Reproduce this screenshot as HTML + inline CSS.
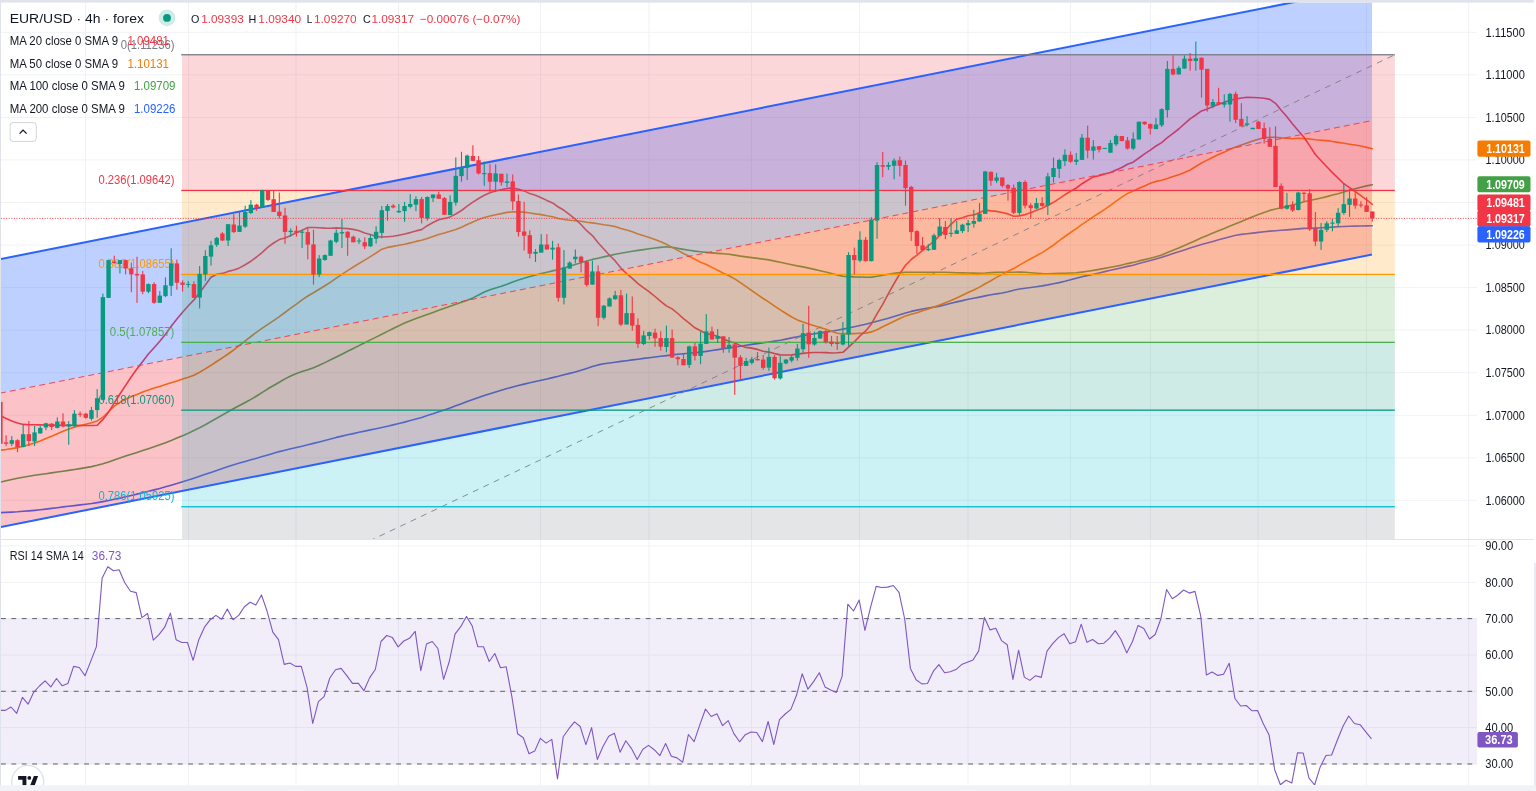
<!DOCTYPE html>
<html><head><meta charset="utf-8"><title>EUR/USD 4h</title>
<style>html,body{margin:0;padding:0;background:#fff;overflow:hidden}body{width:1536px;height:791px;position:relative;font-family:"Liberation Sans",sans-serif}</style></head>
<body>
<svg width="1536" height="791" viewBox="0 0 1536 791" style="position:absolute;left:0;top:0;will-change:transform;font-family:'Liberation Sans',sans-serif">
<defs>
<clipPath id="p1"><rect x="1" y="2.6" width="1476" height="536.4"/></clipPath>
<clipPath id="p2"><rect x="1" y="540.0" width="1476" height="245.29999999999995"/></clipPath>
</defs>
<rect width="1536" height="791" fill="#fff"/>
<g fill="#f1f2f5"><rect x="85.0" y="2.6" width="1" height="782.7"/><rect x="188.0" y="2.6" width="1" height="782.7"/><rect x="295.5" y="2.6" width="1" height="782.7"/><rect x="398.0" y="2.6" width="1" height="782.7"/><rect x="540.0" y="2.6" width="1" height="782.7"/><rect x="648.5" y="2.6" width="1" height="782.7"/><rect x="751.0" y="2.6" width="1" height="782.7"/><rect x="859.0" y="2.6" width="1" height="782.7"/><rect x="967.5" y="2.6" width="1" height="782.7"/><rect x="1070.0" y="2.6" width="1" height="782.7"/><rect x="1150.0" y="2.6" width="1" height="782.7"/><rect x="1257.5" y="2.6" width="1" height="782.7"/><rect x="1366.0" y="2.6" width="1" height="782.7"/><rect x="1468.2" y="2.6" width="1" height="782.7"/><rect x="1" y="31.8" width="1476" height="1"/><rect x="1" y="74.3" width="1476" height="1"/><rect x="1" y="116.9" width="1476" height="1"/><rect x="1" y="159.4" width="1476" height="1"/><rect x="1" y="202.0" width="1476" height="1"/><rect x="1" y="244.6" width="1476" height="1"/><rect x="1" y="287.1" width="1476" height="1"/><rect x="1" y="329.6" width="1476" height="1"/><rect x="1" y="372.2" width="1476" height="1"/><rect x="1" y="414.8" width="1476" height="1"/><rect x="1" y="457.3" width="1476" height="1"/><rect x="1" y="499.8" width="1476" height="1"/><rect x="1" y="545.4" width="1476" height="1"/><rect x="1" y="581.8" width="1476" height="1"/><rect x="1" y="618.1" width="1476" height="1"/><rect x="1" y="654.5" width="1476" height="1"/><rect x="1" y="690.8" width="1476" height="1"/><rect x="1" y="727.1" width="1476" height="1"/><rect x="1" y="763.5" width="1476" height="1"/></g>
<g clip-path="url(#p1)">
<path d="M0.4,512.7 L6.1,512.4 L11.8,512.1 L17.5,511.8 L23.2,511.3 L28.9,510.9 L34.6,510.4 L40.2,509.8 L45.9,509.1 L51.6,508.4 L57.3,507.7 L63.0,506.9 L68.7,506.2 L74.4,505.6 L80.1,504.9 L85.8,504.2 L91.5,503.5 L97.2,502.6 L102.9,501.6 L108.6,500.5 L114.2,499.3 L119.9,498.1 L125.6,496.8 L131.3,495.5 L137.0,494.1 L142.7,492.8 L148.4,491.3 L154.1,489.9 L159.8,488.4 L165.5,486.8 L171.2,485.2 L176.9,483.6 L182.6,481.8 L188.3,480.0 L193.9,478.2 L199.6,476.3 L205.3,474.3 L211.0,472.4 L216.7,470.4 L222.4,468.4 L228.1,466.5 L233.8,464.7 L239.5,463.0 L245.2,461.4 L250.9,459.8 L256.6,458.3 L262.3,456.6 L267.9,454.9 L273.6,453.2 L279.3,451.6 L285.0,450.2 L290.7,448.8 L296.4,447.5 L302.1,446.2 L307.8,444.8 L313.5,443.4 L319.2,441.9 L324.9,440.4 L330.6,438.9 L336.3,437.4 L341.9,436.1 L347.6,434.8 L353.3,433.6 L359.0,432.3 L364.7,431.1 L370.4,429.9 L376.1,428.7 L381.8,427.5 L387.5,426.2 L393.2,424.9 L398.9,423.5 L404.6,422.1 L410.3,420.6 L416.0,419.0 L421.6,417.4 L427.3,415.6 L433.0,413.8 L438.7,411.8 L444.4,409.9 L450.1,407.9 L455.8,405.8 L461.5,403.7 L467.2,401.6 L472.9,399.6 L478.6,397.6 L484.3,395.6 L490.0,393.7 L495.6,391.9 L501.3,390.2 L507.0,388.6 L512.7,387.0 L518.4,385.5 L524.1,384.1 L529.8,382.7 L535.5,381.5 L541.2,380.2 L546.9,379.0 L552.6,377.6 L558.3,376.3 L564.0,374.8 L569.6,373.4 L575.3,371.9 L581.0,370.3 L586.7,368.4 L592.4,366.4 L598.1,364.9 L603.8,363.8 L609.5,363.0 L615.2,362.2 L620.9,361.4 L626.6,360.7 L632.3,359.9 L638.0,359.2 L643.7,358.4 L649.3,357.7 L655.0,357.0 L660.7,356.3 L666.4,355.6 L672.1,354.9 L677.8,354.3 L683.5,353.7 L689.2,353.2 L694.9,352.7 L700.6,352.1 L706.3,351.4 L712.0,350.5 L717.7,349.6 L723.3,348.7 L729.0,347.9 L734.7,347.0 L740.4,346.2 L746.1,345.3 L751.8,344.4 L757.5,343.6 L763.2,342.8 L768.9,342.0 L774.6,341.1 L780.3,340.2 L786.0,339.1 L791.7,337.9 L797.3,336.7 L803.0,335.6 L808.7,334.6 L814.4,333.7 L820.1,332.9 L825.8,332.1 L831.5,331.2 L837.2,330.2 L842.9,329.1 L848.6,328.0 L854.3,326.8 L860.0,325.5 L865.7,324.2 L871.4,322.8 L877.0,321.3 L882.7,319.8 L888.4,318.2 L894.1,316.5 L899.8,314.8 L905.5,313.0 L911.2,311.4 L916.9,310.1 L922.6,309.0 L928.3,308.0 L934.0,307.1 L939.7,306.1 L945.4,304.8 L951.0,303.3 L956.7,301.9 L962.4,300.6 L968.1,299.3 L973.8,298.2 L979.5,297.1 L985.2,295.9 L990.9,294.8 L996.6,293.9 L1002.3,293.0 L1008.0,291.7 L1013.7,290.2 L1019.4,289.0 L1025.1,288.2 L1030.7,287.5 L1036.4,286.7 L1042.1,285.9 L1047.8,284.9 L1053.5,283.7 L1059.2,282.6 L1064.9,281.3 L1070.6,279.8 L1076.3,278.2 L1082.0,276.7 L1087.7,275.4 L1093.4,274.3 L1099.1,273.0 L1104.7,271.6 L1110.4,270.3 L1116.1,269.0 L1121.8,267.7 L1127.5,266.4 L1133.2,265.2 L1138.9,263.6 L1144.6,262.0 L1150.3,260.5 L1156.0,258.9 L1161.7,257.2 L1167.4,255.4 L1173.1,253.6 L1178.7,251.8 L1184.4,250.0 L1190.1,248.1 L1195.8,246.3 L1201.5,244.5 L1207.2,242.9 L1212.9,241.4 L1218.6,239.8 L1224.3,238.3 L1230.0,236.7 L1235.7,235.3 L1241.4,234.4 L1247.1,233.7 L1252.8,233.1 L1258.4,232.4 L1264.1,231.8 L1269.8,231.1 L1275.5,230.7 L1281.2,230.3 L1286.9,229.9 L1292.6,229.4 L1298.3,228.9 L1304.0,228.4 L1309.7,228.3 L1315.4,228.1 L1321.1,227.8 L1326.8,227.5 L1332.4,227.1 L1338.1,226.8 L1343.8,226.5 L1349.5,226.3 L1355.2,226.1 L1360.9,226.0 L1366.6,225.9 L1372.3,225.8" fill="none" stroke="#2962ff" stroke-width="1.6" stroke-linejoin="round" stroke-linecap="round"/>
<path d="M0.4,482.1 L6.1,480.8 L11.8,479.5 L17.5,478.3 L23.2,477.2 L28.9,476.2 L34.6,475.3 L40.2,474.5 L45.9,473.7 L51.6,472.9 L57.3,472.0 L63.0,471.2 L68.7,470.4 L74.4,469.5 L80.1,468.6 L85.8,467.6 L91.5,466.6 L97.2,465.3 L102.9,463.8 L108.6,462.0 L114.2,460.1 L119.9,458.1 L125.6,456.1 L131.3,454.2 L137.0,452.4 L142.7,450.5 L148.4,448.7 L154.1,446.8 L159.8,444.8 L165.5,442.7 L171.2,440.5 L176.9,438.1 L182.6,435.7 L188.3,433.2 L193.9,430.5 L199.6,427.7 L205.3,424.7 L211.0,421.5 L216.7,418.2 L222.4,415.0 L228.1,411.7 L233.8,408.5 L239.5,405.5 L245.2,402.5 L250.9,399.4 L256.6,396.0 L262.3,392.4 L267.9,388.8 L273.6,385.5 L279.3,382.2 L285.0,378.9 L290.7,376.0 L296.4,373.5 L302.1,371.6 L307.8,369.8 L313.5,367.7 L319.2,365.3 L324.9,362.6 L330.6,359.8 L336.3,357.0 L341.9,354.2 L347.6,351.3 L353.3,348.5 L359.0,345.6 L364.7,342.8 L370.4,339.9 L376.1,337.1 L381.8,334.3 L387.5,331.4 L393.2,328.5 L398.9,325.7 L404.6,323.1 L410.3,320.7 L416.0,318.5 L421.6,316.4 L427.3,314.4 L433.0,312.4 L438.7,310.3 L444.4,308.3 L450.1,306.3 L455.8,304.3 L461.5,302.3 L467.2,300.3 L472.9,297.9 L478.6,295.0 L484.3,292.0 L490.0,289.8 L495.6,288.0 L501.3,286.3 L507.0,284.3 L512.7,282.1 L518.4,280.0 L524.1,278.2 L529.8,276.6 L535.5,275.0 L541.2,273.6 L546.9,272.2 L552.6,270.9 L558.3,269.6 L564.0,268.1 L569.6,266.3 L575.3,264.4 L581.0,262.7 L586.7,261.0 L592.4,259.4 L598.1,258.2 L603.8,256.9 L609.5,255.6 L615.2,254.3 L620.9,253.3 L626.6,252.2 L632.3,251.2 L638.0,250.4 L643.7,249.6 L649.3,248.8 L655.0,248.0 L660.7,247.4 L666.4,246.8 L672.1,247.4 L677.8,248.4 L683.5,249.4 L689.2,250.3 L694.9,251.1 L700.6,251.8 L706.3,252.4 L712.0,252.9 L717.7,253.4 L723.3,253.8 L729.0,254.3 L734.7,255.1 L740.4,256.1 L746.1,256.9 L751.8,257.6 L757.5,258.4 L763.2,259.1 L768.9,259.9 L774.6,261.1 L780.3,262.3 L786.0,263.5 L791.7,264.7 L797.3,265.9 L803.0,266.9 L808.7,268.1 L814.4,269.4 L820.1,270.7 L825.8,272.0 L831.5,273.5 L837.2,275.0 L842.9,276.2 L848.6,276.6 L854.3,276.9 L860.0,277.0 L865.7,277.2 L871.4,277.1 L877.0,276.3 L882.7,275.3 L888.4,274.3 L894.1,273.4 L899.8,272.6 L905.5,272.2 L911.2,272.2 L916.9,272.3 L922.6,272.3 L928.3,272.4 L934.0,272.3 L939.7,272.2 L945.4,272.2 L951.0,272.5 L956.7,272.7 L962.4,272.9 L968.1,273.0 L973.8,273.1 L979.5,273.2 L985.2,273.0 L990.9,272.6 L996.6,272.4 L1002.3,272.3 L1008.0,272.2 L1013.7,272.2 L1019.4,272.0 L1025.1,272.3 L1030.7,272.7 L1036.4,273.2 L1042.1,273.6 L1047.8,273.7 L1053.5,273.6 L1059.2,273.4 L1064.9,273.2 L1070.6,273.0 L1076.3,272.8 L1082.0,272.1 L1087.7,271.3 L1093.4,270.4 L1099.1,269.4 L1104.7,268.4 L1110.4,267.3 L1116.1,266.2 L1121.8,265.1 L1127.5,263.6 L1133.2,262.4 L1138.9,260.9 L1144.6,259.6 L1150.3,258.3 L1156.0,256.7 L1161.7,255.1 L1167.4,252.6 L1173.1,250.3 L1178.7,248.0 L1184.4,245.6 L1190.1,243.0 L1195.8,240.4 L1201.5,237.8 L1207.2,235.5 L1212.9,233.1 L1218.6,230.8 L1224.3,228.5 L1230.0,226.0 L1235.7,223.8 L1241.4,221.5 L1247.1,219.1 L1252.8,216.7 L1258.4,214.6 L1264.1,212.4 L1269.8,210.4 L1275.5,209.0 L1281.2,207.7 L1286.9,206.4 L1292.6,205.0 L1298.3,203.5 L1304.0,201.8 L1309.7,200.5 L1315.4,199.3 L1321.1,198.0 L1326.8,196.6 L1332.4,195.1 L1338.1,193.7 L1343.8,192.0 L1349.5,190.3 L1355.2,188.8 L1360.9,187.3 L1366.6,185.9 L1372.3,184.7" fill="none" stroke="#43a047" stroke-width="1.6" stroke-linejoin="round" stroke-linecap="round"/>
<path d="M0.4,450.2 L6.1,449.5 L11.8,448.6 L17.5,447.6 L23.2,446.3 L28.9,444.7 L34.6,442.9 L40.2,440.9 L45.9,438.6 L51.6,436.3 L57.3,433.8 L63.0,431.3 L68.7,429.1 L74.4,427.3 L80.1,425.6 L85.8,424.2 L91.5,422.8 L97.2,420.9 L102.9,417.2 L108.6,411.5 L114.2,406.2 L119.9,402.4 L125.6,399.2 L131.3,396.6 L137.0,394.4 L142.7,392.1 L148.4,389.9 L154.1,388.1 L159.8,386.4 L165.5,384.6 L171.2,382.8 L176.9,380.9 L182.6,379.0 L188.3,377.3 L193.9,375.2 L199.6,372.2 L205.3,368.9 L211.0,365.3 L216.7,361.5 L222.4,357.8 L228.1,354.0 L233.8,349.9 L239.5,345.4 L245.2,340.9 L250.9,336.5 L256.6,332.1 L262.3,328.2 L267.9,324.4 L273.6,320.6 L279.3,316.7 L285.0,312.5 L290.7,308.2 L296.4,304.1 L302.1,299.8 L307.8,296.0 L313.5,292.7 L319.2,289.2 L324.9,285.7 L330.6,282.1 L336.3,278.2 L341.9,274.4 L347.6,270.6 L353.3,267.0 L359.0,263.5 L364.7,260.1 L370.4,256.6 L376.1,253.0 L381.8,249.2 L387.5,247.4 L393.2,246.4 L398.9,245.3 L404.6,244.2 L410.3,242.9 L416.0,241.4 L421.6,240.3 L427.3,238.4 L433.0,236.6 L438.7,234.5 L444.4,232.9 L450.1,231.2 L455.8,229.5 L461.5,227.2 L467.2,224.6 L472.9,222.1 L478.6,219.6 L484.3,217.6 L490.0,216.1 L495.6,214.7 L501.3,213.6 L507.0,212.4 L512.7,211.9 L518.4,211.9 L524.1,212.1 L529.8,213.0 L535.5,213.9 L541.2,214.6 L546.9,215.8 L552.6,216.8 L558.3,218.5 L564.0,219.5 L569.6,220.2 L575.3,220.7 L581.0,221.3 L586.7,222.3 L592.4,222.9 L598.1,223.7 L603.8,224.7 L609.5,225.5 L615.2,226.6 L620.9,228.5 L626.6,230.1 L632.3,231.8 L638.0,233.9 L643.7,235.8 L649.3,237.5 L655.0,239.5 L660.7,241.8 L666.4,244.3 L672.1,247.4 L677.8,250.4 L683.5,253.5 L689.2,256.3 L694.9,259.3 L700.6,262.2 L706.3,264.5 L712.0,267.4 L717.7,270.2 L723.3,273.2 L729.0,275.8 L734.7,278.9 L740.4,282.7 L746.1,286.6 L751.8,290.6 L757.5,294.6 L763.2,298.5 L768.9,302.2 L774.6,306.1 L780.3,309.9 L786.0,313.5 L791.7,317.0 L797.3,319.9 L803.0,321.9 L808.7,324.1 L814.4,325.8 L820.1,327.4 L825.8,329.3 L831.5,331.2 L837.2,333.2 L842.9,333.9 L848.6,333.6 L854.3,333.6 L860.0,333.3 L865.7,333.2 L871.4,331.9 L877.0,329.8 L882.7,326.8 L888.4,324.0 L894.1,321.2 L899.8,318.6 L905.5,315.9 L911.2,314.3 L916.9,312.7 L922.6,310.8 L928.3,309.1 L934.0,307.1 L939.7,304.9 L945.4,302.7 L951.0,300.6 L956.7,298.0 L962.4,295.3 L968.1,292.5 L973.8,290.0 L979.5,287.1 L985.2,283.7 L990.9,280.7 L996.6,277.4 L1002.3,274.4 L1008.0,271.2 L1013.7,268.6 L1019.4,265.1 L1025.1,261.9 L1030.7,258.8 L1036.4,255.7 L1042.1,252.6 L1047.8,248.8 L1053.5,245.0 L1059.2,240.6 L1064.9,236.5 L1070.6,232.5 L1076.3,228.6 L1082.0,224.4 L1087.7,220.7 L1093.4,216.7 L1099.1,213.0 L1104.7,209.3 L1110.4,205.3 L1116.1,201.2 L1121.8,197.1 L1127.5,193.4 L1133.2,191.1 L1138.9,188.3 L1144.6,186.0 L1150.3,183.3 L1156.0,181.4 L1161.7,180.3 L1167.4,178.4 L1173.1,176.6 L1178.7,174.7 L1184.4,172.6 L1190.1,170.0 L1195.8,166.5 L1201.5,163.0 L1207.2,160.1 L1212.9,157.2 L1218.6,154.6 L1224.3,152.1 L1230.0,149.3 L1235.7,147.0 L1241.4,144.9 L1247.1,142.9 L1252.8,141.0 L1258.4,139.2 L1264.1,137.7 L1269.8,137.2 L1275.5,137.3 L1281.2,137.9 L1286.9,138.3 L1292.6,138.7 L1298.3,138.3 L1304.0,138.6 L1309.7,139.0 L1315.4,139.7 L1321.1,140.2 L1326.8,140.6 L1332.4,141.5 L1338.1,142.4 L1343.8,143.3 L1349.5,144.2 L1355.2,145.0 L1360.9,146.0 L1366.6,147.4 L1372.3,148.8" fill="none" stroke="#f57c00" stroke-width="1.6" stroke-linejoin="round" stroke-linecap="round"/>
<path d="M0.4,415.5 L6.1,418.5 L11.8,421.0 L17.5,422.9 L23.2,424.4 L28.9,424.7 L34.6,424.8 L40.2,424.9 L45.9,425.0 L51.6,425.1 L57.3,425.2 L63.0,425.3 L68.7,425.4 L74.4,425.4 L80.1,425.5 L85.8,425.5 L91.5,425.5 L97.2,425.2 L102.9,419.4 L108.6,412.2 L114.2,403.2 L119.9,394.0 L125.6,385.4 L131.3,376.8 L137.0,368.8 L142.7,361.4 L148.4,354.0 L154.1,347.7 L159.8,341.3 L165.5,334.2 L171.2,326.3 L176.9,319.1 L182.6,312.2 L188.3,305.7 L193.9,299.9 L199.6,292.7 L205.3,285.0 L211.0,277.3 L216.7,274.3 L222.4,273.4 L228.1,271.4 L233.8,270.0 L239.5,267.9 L245.2,264.8 L250.9,261.2 L256.6,257.0 L262.3,252.4 L267.9,247.2 L273.6,243.0 L279.3,239.6 L285.0,238.0 L290.7,235.4 L296.4,232.8 L302.1,230.2 L307.8,227.5 L313.5,227.5 L319.2,227.7 L324.9,228.1 L330.6,228.3 L336.3,227.9 L341.9,228.3 L347.6,228.6 L353.3,229.4 L359.0,230.8 L364.7,232.9 L370.4,234.4 L376.1,236.5 L381.8,237.0 L387.5,236.7 L393.2,236.3 L398.9,235.2 L404.6,234.0 L410.3,232.6 L416.0,230.9 L421.6,229.6 L427.3,225.7 L433.0,222.5 L438.7,219.7 L444.4,218.4 L450.1,216.9 L455.8,214.0 L461.5,210.5 L467.2,206.2 L472.9,202.2 L478.6,198.5 L484.3,195.3 L490.0,192.8 L495.6,191.0 L501.3,189.8 L507.0,188.5 L512.7,188.0 L518.4,189.3 L524.1,190.9 L529.8,193.6 L535.5,195.3 L541.2,197.7 L546.9,200.4 L552.6,202.9 L558.3,207.0 L564.0,210.3 L569.6,214.7 L575.3,219.1 L581.0,224.5 L586.7,230.7 L592.4,235.6 L598.1,242.8 L603.8,249.0 L609.5,255.3 L615.2,260.9 L620.9,268.1 L626.6,273.6 L632.3,278.3 L638.0,283.7 L643.7,287.8 L649.3,291.8 L655.0,296.5 L660.7,301.4 L666.4,305.9 L672.1,308.9 L677.8,313.5 L683.5,318.6 L689.2,323.1 L694.9,327.8 L700.6,330.7 L706.3,333.7 L712.0,334.8 L717.7,336.3 L723.3,338.8 L729.0,341.3 L734.7,342.9 L740.4,345.6 L746.1,347.4 L751.8,348.1 L757.5,349.4 L763.2,351.2 L768.9,352.1 L774.6,353.6 L780.3,354.9 L786.0,355.0 L791.7,354.9 L797.3,354.1 L803.0,353.4 L808.7,352.8 L814.4,352.5 L820.1,352.5 L825.8,352.6 L831.5,353.0 L837.2,352.8 L842.9,352.3 L848.6,347.2 L854.3,341.9 L860.0,335.9 L865.7,330.9 L871.4,323.9 L877.0,313.8 L882.7,304.3 L888.4,293.6 L894.1,283.5 L899.8,273.8 L905.5,265.3 L911.2,259.5 L916.9,255.1 L922.6,250.4 L928.3,246.0 L934.0,241.2 L939.7,235.4 L945.4,230.0 L951.0,224.4 L956.7,219.2 L962.4,217.7 L968.1,215.8 L973.8,214.9 L979.5,212.5 L985.2,210.1 L990.9,210.9 L996.6,211.4 L1002.3,212.5 L1008.0,213.9 L1013.7,216.2 L1019.4,215.9 L1025.1,214.6 L1030.7,212.7 L1036.4,210.3 L1042.1,208.2 L1047.8,205.3 L1053.5,202.3 L1059.2,198.6 L1064.9,194.7 L1070.6,191.3 L1076.3,188.0 L1082.0,183.7 L1087.7,180.2 L1093.4,176.9 L1099.1,175.8 L1104.7,174.1 L1110.4,172.4 L1116.1,169.9 L1121.8,167.5 L1127.5,164.3 L1133.2,162.2 L1138.9,158.0 L1144.6,153.8 L1150.3,150.1 L1156.0,146.0 L1161.7,142.6 L1167.4,137.7 L1173.1,133.4 L1178.7,129.0 L1184.4,123.9 L1190.1,118.9 L1195.8,115.0 L1201.5,110.9 L1207.2,108.9 L1212.9,106.5 L1218.6,104.3 L1224.3,102.3 L1230.0,100.2 L1235.7,99.1 L1241.4,98.0 L1247.1,97.2 L1252.8,97.5 L1258.4,97.8 L1264.1,98.3 L1269.8,99.4 L1275.5,103.3 L1281.2,110.3 L1286.9,116.8 L1292.6,124.0 L1298.3,130.7 L1304.0,137.3 L1309.7,145.9 L1315.4,154.5 L1321.1,160.7 L1326.8,166.7 L1332.4,172.6 L1338.1,178.1 L1343.8,183.7 L1349.5,187.6 L1355.2,191.5 L1360.9,195.7 L1366.6,199.9 L1372.3,204.3" fill="none" stroke="#f23645" stroke-width="1.6" stroke-linejoin="round" stroke-linecap="round"/>
<path d="M0,259.2 L1372.0,-13.4 L1372.0,120.6 L0,393.2Z" fill="#2962ff" fill-opacity="0.3"/>
<path d="M0,393.2 L1372.0,120.6 L1372.0,254.6 L0,527.2Z" fill="#f23645" fill-opacity="0.3"/>
<rect x="182.0" y="54.8" width="1212.8" height="135.6" fill="#f23645" fill-opacity="0.2"/>
<rect x="182.0" y="190.4" width="1212.8" height="84.0" fill="#ff9800" fill-opacity="0.2"/>
<rect x="182.0" y="274.4" width="1212.8" height="67.9" fill="#4caf50" fill-opacity="0.2"/>
<rect x="182.0" y="342.3" width="1212.8" height="67.8" fill="#089981" fill-opacity="0.2"/>
<rect x="182.0" y="410.1" width="1212.8" height="96.6" fill="#00bcd4" fill-opacity="0.2"/>
<rect x="182.0" y="506.7" width="1212.8" height="123.1" fill="#787b86" fill-opacity="0.2"/>
<path d="M0,393.2 L1372.0,120.6" stroke="#f23645" stroke-width="1" stroke-dasharray="6 4" fill="none" stroke-opacity="0.9"/>
<path d="M0,259.2 L1372.0,-13.4" stroke="#2962ff" stroke-width="2" fill="none"/>
<path d="M0,527.2 L1372.0,254.6" stroke="#2962ff" stroke-width="2" fill="none"/>
<path d="M182.0,629.8 L1394.8,54.8" stroke="#787b86" stroke-opacity="0.85" stroke-width="1" stroke-dasharray="6 5.5" fill="none"/>
<rect x="181.2" y="54.1" width="1213.6" height="1.3" fill="#787b86"/>
<rect x="181.2" y="189.8" width="1213.6" height="1.3" fill="#f23645"/>
<rect x="181.2" y="273.8" width="1213.6" height="1.3" fill="#ff9800"/>
<rect x="181.2" y="341.7" width="1213.6" height="1.3" fill="#4caf50"/>
<rect x="181.2" y="409.5" width="1213.6" height="1.3" fill="#089981"/>
<rect x="181.2" y="506.1" width="1213.6" height="1.3" fill="#00bcd4"/>
<text x="174.4" y="48.5" font-size="12.6" fill="#787b86" text-anchor="end" textLength="53.6" lengthAdjust="spacingAndGlyphs">0(1.11236)</text>
<text x="174.4" y="184.1" font-size="12.6" fill="#f23645" text-anchor="end" textLength="75.9" lengthAdjust="spacingAndGlyphs">0.236(1.09642)</text>
<text x="174.4" y="268.1" font-size="12.6" fill="#ff9800" text-anchor="end" textLength="75.9" lengthAdjust="spacingAndGlyphs">0.382(1.08655)</text>
<text x="174.4" y="336.0" font-size="12.6" fill="#4caf50" text-anchor="end" textLength="64.6" lengthAdjust="spacingAndGlyphs">0.5(1.07857)</text>
<text x="174.4" y="403.8" font-size="12.6" fill="#089981" text-anchor="end" textLength="75.9" lengthAdjust="spacingAndGlyphs">0.618(1.07060)</text>
<text x="174.4" y="500.4" font-size="12.6" fill="#00bcd4" text-anchor="end" textLength="75.9" lengthAdjust="spacingAndGlyphs">0.786(1.05925)</text>
<g fill="#089981"><rect x="11.23" y="436.1" width="1.1" height="10.0"/><rect x="9.59" y="440.2" width="4.4" height="3.6"/><rect x="22.62" y="424.2" width="1.1" height="23.2"/><rect x="20.97" y="434.2" width="4.4" height="12.8"/><rect x="34.01" y="426.0" width="1.1" height="20.1"/><rect x="32.35" y="432.4" width="4.4" height="9.1"/><rect x="39.70" y="426.0" width="1.1" height="7.7"/><rect x="38.05" y="427.9" width="4.4" height="5.5"/><rect x="45.39" y="422.8" width="1.1" height="7.3"/><rect x="43.74" y="423.3" width="4.4" height="4.1"/><rect x="56.77" y="417.4" width="1.1" height="10.9"/><rect x="55.12" y="421.5" width="4.4" height="6.4"/><rect x="68.16" y="421.0" width="1.1" height="23.7"/><rect x="66.51" y="424.2" width="4.4" height="2.3"/><rect x="73.85" y="410.1" width="1.1" height="17.3"/><rect x="72.20" y="413.7" width="4.4" height="11.4"/><rect x="90.93" y="406.9" width="1.1" height="13.7"/><rect x="89.28" y="410.1" width="4.4" height="8.7"/><rect x="96.62" y="389.1" width="1.1" height="28.7"/><rect x="94.97" y="398.2" width="4.4" height="11.9"/><rect x="102.32" y="293.6" width="1.1" height="106.9"/><rect x="100.67" y="297.1" width="4.4" height="102.7"/><rect x="108.01" y="259.6" width="1.1" height="38.3"/><rect x="106.36" y="260.1" width="4.4" height="37.8"/><rect x="119.39" y="260.1" width="1.1" height="13.3"/><rect x="117.74" y="260.1" width="4.4" height="3.9"/><rect x="147.85" y="283.3" width="1.1" height="9.9"/><rect x="146.21" y="284.1" width="4.4" height="7.6"/><rect x="159.24" y="291.0" width="1.1" height="11.8"/><rect x="157.59" y="295.6" width="4.4" height="7.2"/><rect x="164.93" y="277.4" width="1.1" height="19.7"/><rect x="163.28" y="285.3" width="4.4" height="10.8"/><rect x="170.62" y="248.3" width="1.1" height="47.6"/><rect x="168.98" y="263.4" width="4.4" height="22.4"/><rect x="187.70" y="281.1" width="1.1" height="6.6"/><rect x="186.05" y="283.9" width="4.4" height="1.0"/><rect x="199.09" y="266.0" width="1.1" height="42.4"/><rect x="197.44" y="273.9" width="4.4" height="23.7"/><rect x="204.78" y="250.2" width="1.1" height="30.6"/><rect x="203.13" y="256.0" width="4.4" height="18.4"/><rect x="210.47" y="240.9" width="1.1" height="24.7"/><rect x="208.82" y="245.3" width="4.4" height="11.3"/><rect x="216.16" y="236.9" width="1.1" height="9.9"/><rect x="214.52" y="237.9" width="4.4" height="6.9"/><rect x="227.55" y="224.2" width="1.1" height="21.8"/><rect x="225.90" y="224.2" width="4.4" height="16.3"/><rect x="238.94" y="211.3" width="1.1" height="20.6"/><rect x="237.29" y="225.6" width="4.4" height="6.3"/><rect x="244.63" y="205.7" width="1.1" height="22.2"/><rect x="242.98" y="212.0" width="4.4" height="14.6"/><rect x="250.32" y="200.2" width="1.1" height="13.9"/><rect x="248.67" y="204.7" width="4.4" height="8.3"/><rect x="261.70" y="189.7" width="1.1" height="18.1"/><rect x="260.06" y="190.4" width="4.4" height="17.1"/><rect x="290.17" y="228.4" width="1.1" height="8.3"/><rect x="288.52" y="230.7" width="4.4" height="1.4"/><rect x="301.55" y="230.0" width="1.1" height="18.1"/><rect x="299.90" y="231.7" width="4.4" height="1.1"/><rect x="318.63" y="255.1" width="1.1" height="22.0"/><rect x="316.98" y="258.5" width="4.4" height="16.0"/><rect x="324.32" y="254.4" width="1.1" height="6.3"/><rect x="322.67" y="255.1" width="4.4" height="4.9"/><rect x="330.01" y="239.8" width="1.1" height="16.0"/><rect x="328.37" y="240.5" width="4.4" height="15.3"/><rect x="335.71" y="229.4" width="1.1" height="13.9"/><rect x="334.06" y="232.8" width="4.4" height="9.0"/><rect x="341.40" y="218.9" width="1.1" height="29.2"/><rect x="339.75" y="232.1" width="4.4" height="1.4"/><rect x="358.48" y="238.1" width="1.1" height="5.8"/><rect x="356.83" y="240.5" width="4.4" height="1.0"/><rect x="369.86" y="234.5" width="1.1" height="12.5"/><rect x="368.21" y="238.0" width="4.4" height="8.3"/><rect x="375.55" y="226.2" width="1.1" height="17.4"/><rect x="373.90" y="231.8" width="4.4" height="7.0"/><rect x="381.25" y="206.0" width="1.1" height="32.4"/><rect x="379.60" y="210.2" width="4.4" height="22.7"/><rect x="386.94" y="204.0" width="1.1" height="16.7"/><rect x="385.29" y="206.0" width="4.4" height="4.9"/><rect x="398.32" y="204.0" width="1.1" height="9.0"/><rect x="396.67" y="210.9" width="4.4" height="1.4"/><rect x="404.02" y="201.9" width="1.1" height="19.9"/><rect x="402.37" y="206.0" width="4.4" height="5.1"/><rect x="409.71" y="194.2" width="1.1" height="14.2"/><rect x="408.06" y="204.0" width="4.4" height="2.8"/><rect x="415.40" y="196.3" width="1.1" height="14.9"/><rect x="413.75" y="199.1" width="4.4" height="5.6"/><rect x="426.79" y="196.3" width="1.1" height="24.3"/><rect x="425.14" y="197.0" width="4.4" height="21.5"/><rect x="432.48" y="194.5" width="1.1" height="7.4"/><rect x="430.83" y="194.5" width="4.4" height="3.6"/><rect x="449.56" y="195.3" width="1.1" height="19.7"/><rect x="447.91" y="201.9" width="4.4" height="13.2"/><rect x="455.25" y="157.4" width="1.1" height="48.2"/><rect x="453.60" y="175.9" width="4.4" height="26.7"/><rect x="460.94" y="151.8" width="1.1" height="29.9"/><rect x="459.29" y="167.1" width="4.4" height="9.0"/><rect x="466.63" y="154.6" width="1.1" height="25.4"/><rect x="464.98" y="155.6" width="4.4" height="12.2"/><rect x="483.71" y="161.5" width="1.1" height="24.3"/><rect x="482.06" y="173.1" width="4.4" height="1.1"/><rect x="495.10" y="164.3" width="1.1" height="27.8"/><rect x="493.45" y="173.4" width="4.4" height="8.3"/><rect x="506.48" y="173.6" width="1.1" height="13.6"/><rect x="504.83" y="181.4" width="4.4" height="1.4"/><rect x="534.95" y="249.1" width="1.1" height="12.9"/><rect x="533.29" y="251.9" width="4.4" height="1.8"/><rect x="540.64" y="234.2" width="1.1" height="18.4"/><rect x="538.99" y="244.5" width="4.4" height="8.1"/><rect x="552.02" y="240.8" width="1.1" height="18.8"/><rect x="550.37" y="247.7" width="4.4" height="1.8"/><rect x="563.41" y="250.1" width="1.1" height="54.3"/><rect x="561.76" y="267.5" width="4.4" height="30.3"/><rect x="569.10" y="261.3" width="1.1" height="7.4"/><rect x="567.45" y="262.6" width="4.4" height="6.0"/><rect x="574.79" y="249.4" width="1.1" height="13.9"/><rect x="573.14" y="256.7" width="4.4" height="2.5"/><rect x="591.87" y="260.6" width="1.1" height="24.1"/><rect x="590.22" y="271.4" width="4.4" height="13.2"/><rect x="603.25" y="305.0" width="1.1" height="14.6"/><rect x="601.60" y="305.7" width="4.4" height="12.1"/><rect x="608.95" y="297.4" width="1.1" height="9.0"/><rect x="607.30" y="298.4" width="4.4" height="8.1"/><rect x="614.64" y="290.9" width="1.1" height="8.9"/><rect x="612.99" y="295.3" width="4.4" height="3.9"/><rect x="626.02" y="293.6" width="1.1" height="30.9"/><rect x="624.37" y="313.1" width="4.4" height="11.4"/><rect x="643.10" y="330.8" width="1.1" height="14.3"/><rect x="641.45" y="335.4" width="4.4" height="8.6"/><rect x="648.79" y="331.5" width="1.1" height="8.1"/><rect x="647.14" y="332.2" width="4.4" height="3.8"/><rect x="665.87" y="325.6" width="1.1" height="26.7"/><rect x="664.22" y="338.1" width="4.4" height="8.9"/><rect x="688.64" y="345.7" width="1.1" height="22.2"/><rect x="686.99" y="346.4" width="4.4" height="18.5"/><rect x="700.03" y="331.4" width="1.1" height="32.8"/><rect x="698.38" y="343.7" width="4.4" height="12.2"/><rect x="705.72" y="314.2" width="1.1" height="29.8"/><rect x="704.07" y="331.4" width="4.4" height="12.5"/><rect x="717.11" y="329.1" width="1.1" height="13.9"/><rect x="715.45" y="336.0" width="4.4" height="2.8"/><rect x="728.49" y="337.0" width="1.1" height="15.7"/><rect x="726.84" y="344.8" width="4.4" height="3.8"/><rect x="745.57" y="357.8" width="1.1" height="8.1"/><rect x="743.92" y="361.0" width="4.4" height="4.9"/><rect x="751.26" y="356.9" width="1.1" height="7.6"/><rect x="749.61" y="359.2" width="4.4" height="3.6"/><rect x="768.34" y="347.6" width="1.1" height="23.2"/><rect x="766.69" y="356.9" width="4.4" height="10.7"/><rect x="779.72" y="356.2" width="1.1" height="23.4"/><rect x="778.07" y="362.8" width="4.4" height="15.6"/><rect x="785.41" y="359.0" width="1.1" height="5.3"/><rect x="783.76" y="359.6" width="4.4" height="3.8"/><rect x="791.11" y="354.8" width="1.1" height="7.6"/><rect x="789.46" y="357.1" width="4.4" height="3.5"/><rect x="796.80" y="343.9" width="1.1" height="16.7"/><rect x="795.15" y="348.5" width="4.4" height="9.3"/><rect x="802.49" y="323.9" width="1.1" height="28.8"/><rect x="800.84" y="333.2" width="4.4" height="16.0"/><rect x="813.88" y="331.5" width="1.1" height="14.2"/><rect x="812.23" y="338.0" width="4.4" height="6.5"/><rect x="819.57" y="330.4" width="1.1" height="8.3"/><rect x="817.92" y="331.1" width="4.4" height="7.4"/><rect x="842.34" y="322.0" width="1.1" height="23.4"/><rect x="840.69" y="334.5" width="4.4" height="10.0"/><rect x="848.03" y="252.2" width="1.1" height="94.1"/><rect x="846.38" y="255.0" width="4.4" height="79.5"/><rect x="859.42" y="231.4" width="1.1" height="30.8"/><rect x="857.77" y="239.8" width="4.4" height="20.8"/><rect x="870.80" y="217.2" width="1.1" height="44.3"/><rect x="869.15" y="219.6" width="4.4" height="41.5"/><rect x="876.50" y="162.2" width="1.1" height="76.5"/><rect x="874.84" y="165.0" width="4.4" height="55.6"/><rect x="887.88" y="162.2" width="1.1" height="7.8"/><rect x="886.23" y="165.0" width="4.4" height="1.8"/><rect x="893.57" y="158.4" width="1.1" height="20.9"/><rect x="891.92" y="160.5" width="4.4" height="5.3"/><rect x="927.73" y="243.9" width="1.1" height="7.2"/><rect x="926.08" y="248.8" width="4.4" height="1.4"/><rect x="933.42" y="233.5" width="1.1" height="16.3"/><rect x="931.77" y="235.3" width="4.4" height="14.5"/><rect x="939.11" y="218.2" width="1.1" height="17.7"/><rect x="937.46" y="226.5" width="4.4" height="9.3"/><rect x="950.50" y="218.2" width="1.1" height="18.8"/><rect x="948.85" y="232.8" width="4.4" height="1.1"/><rect x="956.19" y="221.0" width="1.1" height="12.9"/><rect x="954.54" y="230.3" width="4.4" height="3.6"/><rect x="961.88" y="223.8" width="1.1" height="9.3"/><rect x="960.23" y="224.7" width="4.4" height="6.4"/><rect x="967.58" y="220.0" width="1.1" height="12.1"/><rect x="965.92" y="223.1" width="4.4" height="2.1"/><rect x="973.27" y="209.9" width="1.1" height="17.7"/><rect x="971.62" y="221.0" width="4.4" height="2.8"/><rect x="978.96" y="203.1" width="1.1" height="18.5"/><rect x="977.31" y="213.6" width="4.4" height="7.9"/><rect x="984.65" y="170.8" width="1.1" height="43.1"/><rect x="983.00" y="171.5" width="4.4" height="42.4"/><rect x="996.04" y="172.9" width="1.1" height="10.1"/><rect x="994.39" y="177.5" width="4.4" height="3.3"/><rect x="1018.81" y="181.3" width="1.1" height="34.3"/><rect x="1017.16" y="182.0" width="4.4" height="30.9"/><rect x="1035.89" y="197.9" width="1.1" height="11.1"/><rect x="1034.24" y="203.1" width="4.4" height="5.3"/><rect x="1047.27" y="172.9" width="1.1" height="42.1"/><rect x="1045.62" y="176.4" width="4.4" height="29.2"/><rect x="1052.96" y="157.6" width="1.1" height="25.0"/><rect x="1051.31" y="168.0" width="4.4" height="9.0"/><rect x="1058.66" y="158.6" width="1.1" height="19.5"/><rect x="1057.01" y="160.0" width="4.4" height="8.8"/><rect x="1064.35" y="149.3" width="1.1" height="16.7"/><rect x="1062.70" y="154.8" width="4.4" height="6.3"/><rect x="1075.73" y="153.0" width="1.1" height="12.0"/><rect x="1074.08" y="159.7" width="4.4" height="2.1"/><rect x="1081.43" y="134.0" width="1.1" height="26.0"/><rect x="1079.78" y="137.7" width="4.4" height="22.2"/><rect x="1092.81" y="140.0" width="1.1" height="19.5"/><rect x="1091.16" y="146.5" width="4.4" height="4.2"/><rect x="1104.20" y="147.9" width="1.1" height="1.0"/><rect x="1102.55" y="147.9" width="4.4" height="1.0"/><rect x="1109.89" y="140.0" width="1.1" height="12.8"/><rect x="1108.24" y="143.0" width="4.4" height="9.7"/><rect x="1115.58" y="134.6" width="1.1" height="11.5"/><rect x="1113.93" y="136.0" width="4.4" height="8.3"/><rect x="1132.66" y="132.3" width="1.1" height="17.7"/><rect x="1131.01" y="138.8" width="4.4" height="9.8"/><rect x="1138.35" y="121.7" width="1.1" height="17.8"/><rect x="1136.70" y="121.7" width="4.4" height="17.8"/><rect x="1155.43" y="117.9" width="1.1" height="11.1"/><rect x="1153.78" y="124.5" width="4.4" height="4.6"/><rect x="1161.12" y="108.2" width="1.1" height="18.8"/><rect x="1159.47" y="109.2" width="4.4" height="16.1"/><rect x="1166.81" y="60.9" width="1.1" height="56.6"/><rect x="1165.16" y="68.9" width="4.4" height="41.2"/><rect x="1178.20" y="66.1" width="1.1" height="8.3"/><rect x="1176.55" y="67.9" width="4.4" height="6.5"/><rect x="1183.89" y="55.4" width="1.1" height="13.2"/><rect x="1182.24" y="58.6" width="4.4" height="10.0"/><rect x="1195.28" y="41.5" width="1.1" height="29.2"/><rect x="1193.62" y="58.2" width="4.4" height="2.8"/><rect x="1212.35" y="99.2" width="1.1" height="9.0"/><rect x="1210.70" y="102.0" width="4.4" height="3.9"/><rect x="1223.74" y="94.3" width="1.1" height="13.2"/><rect x="1222.09" y="102.6" width="4.4" height="2.1"/><rect x="1229.43" y="92.9" width="1.1" height="28.8"/><rect x="1227.78" y="93.9" width="4.4" height="10.6"/><rect x="1246.51" y="116.1" width="1.1" height="10.3"/><rect x="1244.86" y="123.4" width="4.4" height="1.4"/><rect x="1252.20" y="127.8" width="1.1" height="1.4"/><rect x="1250.55" y="127.8" width="4.4" height="1.4"/><rect x="1286.36" y="192.8" width="1.1" height="16.8"/><rect x="1284.70" y="205.3" width="4.4" height="3.4"/><rect x="1297.74" y="191.6" width="1.1" height="18.8"/><rect x="1296.09" y="192.5" width="4.4" height="17.5"/><rect x="1320.51" y="222.9" width="1.1" height="27.0"/><rect x="1318.86" y="229.8" width="4.4" height="11.7"/><rect x="1326.20" y="221.2" width="1.1" height="10.8"/><rect x="1324.55" y="223.3" width="4.4" height="6.5"/><rect x="1331.90" y="219.2" width="1.1" height="12.1"/><rect x="1330.25" y="222.6" width="4.4" height="1.1"/><rect x="1337.59" y="208.1" width="1.1" height="18.6"/><rect x="1335.94" y="212.7" width="4.4" height="10.6"/><rect x="1343.28" y="183.4" width="1.1" height="31.5"/><rect x="1341.63" y="204.1" width="4.4" height="8.9"/><rect x="1348.97" y="189.1" width="1.1" height="27.8"/><rect x="1347.32" y="198.5" width="4.4" height="6.3"/></g>
<g fill="#f23645"><rect x="-0.15" y="400.1" width="1.1" height="45.1"/><rect x="-1.80" y="401.9" width="4.4" height="41.9"/><rect x="5.54" y="435.2" width="1.1" height="10.9"/><rect x="3.89" y="442.4" width="4.4" height="1.4"/><rect x="16.93" y="439.3" width="1.1" height="12.8"/><rect x="15.28" y="440.2" width="4.4" height="6.8"/><rect x="28.31" y="421.0" width="1.1" height="25.1"/><rect x="26.66" y="434.2" width="4.4" height="6.8"/><rect x="51.08" y="423.3" width="1.1" height="6.8"/><rect x="49.43" y="423.6" width="4.4" height="3.4"/><rect x="62.47" y="413.3" width="1.1" height="14.1"/><rect x="60.82" y="421.5" width="4.4" height="5.0"/><rect x="79.55" y="411.4" width="1.1" height="5.5"/><rect x="77.89" y="413.7" width="4.4" height="1.0"/><rect x="85.24" y="412.8" width="1.1" height="5.9"/><rect x="83.59" y="413.7" width="4.4" height="4.1"/><rect x="113.70" y="255.7" width="1.1" height="7.9"/><rect x="112.05" y="261.6" width="4.4" height="1.5"/><rect x="125.09" y="259.6" width="1.1" height="14.8"/><rect x="123.44" y="260.1" width="4.4" height="8.4"/><rect x="130.78" y="262.6" width="1.1" height="29.6"/><rect x="129.13" y="268.3" width="4.4" height="6.1"/><rect x="136.47" y="256.7" width="1.1" height="46.2"/><rect x="134.82" y="273.9" width="4.4" height="1.5"/><rect x="142.16" y="271.0" width="1.1" height="23.2"/><rect x="140.51" y="274.4" width="4.4" height="17.3"/><rect x="153.55" y="282.3" width="1.1" height="21.5"/><rect x="151.90" y="284.1" width="4.4" height="18.7"/><rect x="176.32" y="259.6" width="1.1" height="30.1"/><rect x="174.67" y="263.4" width="4.4" height="19.4"/><rect x="182.01" y="280.3" width="1.1" height="11.3"/><rect x="180.36" y="282.5" width="4.4" height="2.3"/><rect x="193.39" y="281.3" width="1.1" height="16.6"/><rect x="191.75" y="284.1" width="4.4" height="13.8"/><rect x="221.86" y="232.1" width="1.1" height="9.0"/><rect x="220.21" y="233.5" width="4.4" height="7.0"/><rect x="233.24" y="214.1" width="1.1" height="18.8"/><rect x="231.59" y="224.5" width="4.4" height="7.6"/><rect x="256.01" y="203.9" width="1.1" height="7.0"/><rect x="254.36" y="204.7" width="4.4" height="3.1"/><rect x="267.40" y="190.4" width="1.1" height="10.4"/><rect x="265.75" y="190.4" width="4.4" height="9.5"/><rect x="273.09" y="190.4" width="1.1" height="21.5"/><rect x="271.44" y="199.2" width="4.4" height="12.8"/><rect x="278.78" y="192.5" width="1.1" height="26.1"/><rect x="277.13" y="211.7" width="4.4" height="4.2"/><rect x="284.47" y="207.8" width="1.1" height="36.1"/><rect x="282.82" y="215.5" width="4.4" height="16.4"/><rect x="295.86" y="225.6" width="1.1" height="11.1"/><rect x="294.21" y="230.7" width="4.4" height="2.1"/><rect x="307.24" y="228.0" width="1.1" height="31.3"/><rect x="305.59" y="232.1" width="4.4" height="12.5"/><rect x="312.94" y="229.8" width="1.1" height="54.8"/><rect x="311.29" y="244.4" width="4.4" height="30.2"/><rect x="347.09" y="231.2" width="1.1" height="24.6"/><rect x="345.44" y="231.7" width="4.4" height="6.0"/><rect x="352.78" y="235.6" width="1.1" height="6.7"/><rect x="351.13" y="236.7" width="4.4" height="5.6"/><rect x="364.17" y="237.3" width="1.1" height="11.8"/><rect x="362.52" y="242.2" width="4.4" height="4.2"/><rect x="392.63" y="204.0" width="1.1" height="4.4"/><rect x="390.98" y="205.6" width="4.4" height="1.8"/><rect x="421.09" y="197.0" width="1.1" height="26.4"/><rect x="419.44" y="199.1" width="4.4" height="18.8"/><rect x="438.17" y="191.7" width="1.1" height="7.0"/><rect x="436.52" y="194.5" width="4.4" height="4.2"/><rect x="443.86" y="197.0" width="1.1" height="17.8"/><rect x="442.21" y="198.1" width="4.4" height="16.7"/><rect x="472.33" y="145.3" width="1.1" height="15.6"/><rect x="470.68" y="156.0" width="4.4" height="4.9"/><rect x="478.02" y="156.0" width="1.1" height="18.5"/><rect x="476.37" y="160.2" width="4.4" height="13.2"/><rect x="489.40" y="164.3" width="1.1" height="27.8"/><rect x="487.75" y="173.1" width="4.4" height="8.6"/><rect x="500.79" y="173.8" width="1.1" height="11.8"/><rect x="499.14" y="173.8" width="4.4" height="8.6"/><rect x="512.18" y="174.5" width="1.1" height="35.7"/><rect x="510.53" y="181.4" width="4.4" height="20.0"/><rect x="517.87" y="194.5" width="1.1" height="42.1"/><rect x="516.22" y="201.1" width="4.4" height="30.9"/><rect x="523.56" y="201.8" width="1.1" height="48.7"/><rect x="521.91" y="231.5" width="4.4" height="4.2"/><rect x="529.25" y="230.3" width="1.1" height="28.1"/><rect x="527.60" y="235.2" width="4.4" height="18.5"/><rect x="546.33" y="234.2" width="1.1" height="15.3"/><rect x="544.68" y="244.5" width="4.4" height="5.0"/><rect x="557.72" y="243.5" width="1.1" height="58.1"/><rect x="556.06" y="247.3" width="4.4" height="50.5"/><rect x="580.49" y="255.7" width="1.1" height="16.7"/><rect x="578.83" y="256.7" width="4.4" height="5.3"/><rect x="586.18" y="260.6" width="1.1" height="26.1"/><rect x="584.53" y="261.7" width="4.4" height="23.2"/><rect x="597.56" y="265.4" width="1.1" height="60.8"/><rect x="595.91" y="271.4" width="4.4" height="46.4"/><rect x="620.33" y="290.0" width="1.1" height="36.1"/><rect x="618.68" y="295.3" width="4.4" height="29.2"/><rect x="631.72" y="296.4" width="1.1" height="34.3"/><rect x="630.07" y="313.1" width="4.4" height="12.5"/><rect x="637.41" y="318.3" width="1.1" height="29.6"/><rect x="635.76" y="324.9" width="4.4" height="19.0"/><rect x="654.49" y="328.7" width="1.1" height="18.1"/><rect x="652.84" y="332.6" width="4.4" height="5.8"/><rect x="660.18" y="331.2" width="1.1" height="19.5"/><rect x="658.53" y="338.1" width="4.4" height="8.6"/><rect x="671.57" y="329.5" width="1.1" height="28.1"/><rect x="669.91" y="338.1" width="4.4" height="19.5"/><rect x="677.26" y="356.2" width="1.1" height="9.0"/><rect x="675.61" y="357.3" width="4.4" height="1.9"/><rect x="682.95" y="353.4" width="1.1" height="11.8"/><rect x="681.30" y="359.0" width="4.4" height="6.3"/><rect x="694.34" y="343.0" width="1.1" height="17.4"/><rect x="692.68" y="346.4" width="4.4" height="9.5"/><rect x="711.41" y="326.7" width="1.1" height="12.8"/><rect x="709.76" y="331.4" width="4.4" height="8.1"/><rect x="722.80" y="336.3" width="1.1" height="16.4"/><rect x="721.15" y="336.3" width="4.4" height="11.8"/><rect x="734.18" y="342.3" width="1.1" height="52.6"/><rect x="732.53" y="344.4" width="4.4" height="13.2"/><rect x="739.88" y="355.1" width="1.1" height="25.0"/><rect x="738.22" y="357.3" width="4.4" height="8.6"/><rect x="756.95" y="352.0" width="1.1" height="8.3"/><rect x="755.30" y="359.0" width="4.4" height="1.4"/><rect x="762.64" y="355.1" width="1.1" height="14.7"/><rect x="760.99" y="359.6" width="4.4" height="8.3"/><rect x="774.03" y="355.1" width="1.1" height="24.5"/><rect x="772.38" y="356.9" width="4.4" height="21.3"/><rect x="808.19" y="305.8" width="1.1" height="52.0"/><rect x="806.53" y="332.8" width="4.4" height="11.5"/><rect x="825.26" y="330.1" width="1.1" height="13.5"/><rect x="823.61" y="331.1" width="4.4" height="11.1"/><rect x="830.96" y="335.9" width="1.1" height="10.4"/><rect x="829.30" y="341.5" width="4.4" height="2.5"/><rect x="836.65" y="335.9" width="1.1" height="14.0"/><rect x="835.00" y="342.6" width="4.4" height="1.4"/><rect x="853.73" y="247.6" width="1.1" height="26.8"/><rect x="852.07" y="255.0" width="4.4" height="5.1"/><rect x="865.11" y="237.0" width="1.1" height="24.5"/><rect x="863.46" y="239.8" width="4.4" height="21.3"/><rect x="882.19" y="151.9" width="1.1" height="25.3"/><rect x="880.54" y="165.2" width="4.4" height="1.5"/><rect x="899.26" y="156.6" width="1.1" height="19.9"/><rect x="897.61" y="160.2" width="4.4" height="5.6"/><rect x="904.96" y="160.5" width="1.1" height="45.2"/><rect x="903.31" y="165.0" width="4.4" height="23.1"/><rect x="910.65" y="185.8" width="1.1" height="55.1"/><rect x="909.00" y="186.9" width="4.4" height="45.2"/><rect x="916.34" y="230.3" width="1.1" height="23.6"/><rect x="914.69" y="231.1" width="4.4" height="14.9"/><rect x="922.03" y="237.0" width="1.1" height="13.9"/><rect x="920.38" y="245.3" width="4.4" height="4.9"/><rect x="944.80" y="221.0" width="1.1" height="18.1"/><rect x="943.15" y="227.0" width="4.4" height="7.9"/><rect x="990.35" y="171.5" width="1.1" height="14.3"/><rect x="988.69" y="171.9" width="4.4" height="8.9"/><rect x="1001.73" y="177.5" width="1.1" height="10.0"/><rect x="1000.08" y="177.5" width="4.4" height="8.3"/><rect x="1007.42" y="184.0" width="1.1" height="16.7"/><rect x="1005.77" y="185.0" width="4.4" height="3.6"/><rect x="1013.12" y="184.5" width="1.1" height="29.5"/><rect x="1011.46" y="187.8" width="4.4" height="25.0"/><rect x="1024.50" y="180.3" width="1.1" height="28.1"/><rect x="1022.85" y="182.0" width="4.4" height="23.6"/><rect x="1030.19" y="203.1" width="1.1" height="15.0"/><rect x="1028.54" y="205.3" width="4.4" height="2.8"/><rect x="1041.58" y="197.2" width="1.1" height="9.7"/><rect x="1039.93" y="203.1" width="4.4" height="2.8"/><rect x="1070.04" y="151.4" width="1.1" height="11.4"/><rect x="1068.39" y="154.8" width="4.4" height="7.0"/><rect x="1087.12" y="125.6" width="1.1" height="32.7"/><rect x="1085.47" y="137.7" width="4.4" height="12.9"/><rect x="1098.50" y="146.2" width="1.1" height="6.3"/><rect x="1096.85" y="146.2" width="4.4" height="3.5"/><rect x="1121.27" y="136.0" width="1.1" height="5.1"/><rect x="1119.62" y="136.0" width="4.4" height="5.1"/><rect x="1126.97" y="137.0" width="1.1" height="12.5"/><rect x="1125.32" y="140.4" width="4.4" height="8.2"/><rect x="1144.04" y="121.7" width="1.1" height="3.2"/><rect x="1142.39" y="121.7" width="4.4" height="2.5"/><rect x="1149.74" y="123.9" width="1.1" height="10.7"/><rect x="1148.09" y="123.9" width="4.4" height="4.7"/><rect x="1172.51" y="55.4" width="1.1" height="19.9"/><rect x="1170.86" y="68.9" width="4.4" height="5.6"/><rect x="1189.58" y="53.0" width="1.1" height="17.7"/><rect x="1187.93" y="58.6" width="4.4" height="2.4"/><rect x="1200.97" y="57.7" width="1.1" height="40.0"/><rect x="1199.32" y="57.7" width="4.4" height="12.0"/><rect x="1206.66" y="68.9" width="1.1" height="42.8"/><rect x="1205.01" y="68.9" width="4.4" height="36.6"/><rect x="1218.05" y="87.8" width="1.1" height="17.7"/><rect x="1216.39" y="102.2" width="4.4" height="2.2"/><rect x="1235.12" y="91.5" width="1.1" height="31.6"/><rect x="1233.47" y="93.9" width="4.4" height="25.9"/><rect x="1240.82" y="103.2" width="1.1" height="23.2"/><rect x="1239.16" y="118.9" width="4.4" height="7.5"/><rect x="1257.89" y="120.9" width="1.1" height="8.1"/><rect x="1256.24" y="121.7" width="4.4" height="7.2"/><rect x="1263.59" y="122.7" width="1.1" height="20.9"/><rect x="1261.93" y="128.2" width="4.4" height="10.7"/><rect x="1269.28" y="127.3" width="1.1" height="19.5"/><rect x="1267.63" y="138.7" width="4.4" height="8.1"/><rect x="1274.97" y="126.4" width="1.1" height="60.6"/><rect x="1273.32" y="145.9" width="4.4" height="41.2"/><rect x="1280.66" y="183.4" width="1.1" height="25.8"/><rect x="1279.01" y="185.9" width="4.4" height="22.8"/><rect x="1292.05" y="201.3" width="1.1" height="10.6"/><rect x="1290.40" y="204.7" width="4.4" height="5.7"/><rect x="1303.43" y="191.9" width="1.1" height="9.1"/><rect x="1301.78" y="192.8" width="4.4" height="1.1"/><rect x="1309.12" y="189.1" width="1.1" height="41.8"/><rect x="1307.47" y="193.3" width="4.4" height="36.1"/><rect x="1314.82" y="211.9" width="1.1" height="34.1"/><rect x="1313.17" y="228.6" width="4.4" height="12.9"/><rect x="1354.67" y="190.3" width="1.1" height="18.4"/><rect x="1353.02" y="198.5" width="4.4" height="7.1"/><rect x="1360.36" y="201.3" width="1.1" height="6.3"/><rect x="1358.71" y="204.6" width="4.4" height="1.0"/><rect x="1366.05" y="197.3" width="1.1" height="14.6"/><rect x="1364.40" y="205.3" width="4.4" height="6.6"/><rect x="1371.74" y="211.5" width="1.1" height="10.2"/><rect x="1370.09" y="211.5" width="4.4" height="6.8"/></g>
</g>
<path d="M1,218.4 L1477,218.4" stroke="#f23645" stroke-opacity="0.9" stroke-width="0.95" stroke-dasharray="1.15 1.41" fill="none"/>
<rect x="0" y="539" width="1533.8" height="1" fill="#e0e3eb"/>
<g clip-path="url(#p2)">
<rect x="1" y="618.6" width="1476" height="145.4" fill="#7e57c2" fill-opacity="0.1"/>
<path d="M1,618.6 L1477,618.6" stroke="#5d606b" stroke-width="1.0" stroke-dasharray="4.8 5.6" fill="none"/>
<path d="M1,691.3 L1477,691.3" stroke="#5d606b" stroke-width="1.0" stroke-dasharray="4.8 5.6" fill="none"/>
<path d="M1,764.0 L1477,764.0" stroke="#5d606b" stroke-width="1.0" stroke-dasharray="4.8 5.6" fill="none"/>
<path d="M-0.4,710.4 L5.3,710.4 L11.0,707.0 L16.7,713.3 L22.4,697.4 L28.1,704.2 L33.8,692.1 L39.4,686.0 L45.1,680.8 L50.8,686.9 L56.5,678.5 L62.2,685.8 L67.9,683.5 L73.6,666.4 L79.3,667.5 L85.0,675.7 L90.7,661.4 L96.4,646.6 L102.1,578.2 L107.8,566.8 L113.5,570.7 L119.1,569.8 L124.8,582.8 L130.5,591.2 L136.2,592.6 L141.9,617.6 L147.6,613.5 L153.3,640.2 L159.0,634.7 L164.7,627.2 L170.4,613.1 L176.1,639.7 L181.8,642.5 L187.5,642.5 L193.1,660.3 L198.8,639.7 L204.5,627.2 L210.2,619.7 L215.9,615.4 L221.6,619.2 L227.3,609.0 L233.0,619.7 L238.7,615.4 L244.4,606.7 L250.1,602.2 L255.8,604.9 L261.5,594.9 L267.1,611.3 L272.8,632.2 L278.5,639.7 L284.2,664.4 L289.9,663.0 L295.6,666.4 L301.3,666.4 L307.0,687.1 L312.7,723.4 L318.4,701.7 L324.1,696.7 L329.8,678.0 L335.5,669.8 L341.1,668.4 L346.8,675.6 L352.5,683.4 L358.2,683.2 L363.9,690.7 L369.6,677.9 L375.3,669.5 L381.0,641.5 L386.7,635.5 L392.4,637.6 L398.1,646.9 L403.8,641.0 L409.5,638.3 L415.2,631.4 L420.8,670.6 L426.5,644.0 L432.2,641.5 L437.9,648.5 L443.6,679.3 L449.3,661.5 L455.0,634.2 L460.7,626.7 L466.4,616.4 L472.1,625.7 L477.8,646.7 L483.5,646.7 L489.2,661.5 L494.8,653.5 L500.5,667.7 L506.2,666.8 L511.9,696.8 L517.6,733.7 L523.3,737.8 L529.0,753.8 L534.7,751.1 L540.4,738.3 L546.1,743.1 L551.8,739.4 L557.5,778.9 L563.2,736.7 L568.9,728.7 L574.5,721.9 L580.2,726.5 L585.9,744.7 L591.6,727.6 L597.3,759.5 L603.0,746.5 L608.7,736.2 L614.4,733.3 L620.1,752.2 L625.8,740.8 L631.5,748.6 L637.2,759.5 L642.9,749.2 L648.5,745.4 L654.2,749.7 L659.9,755.6 L665.6,743.5 L671.3,756.3 L677.0,757.9 L682.7,762.2 L688.4,734.5 L694.1,741.6 L699.8,724.9 L705.5,709.0 L711.2,716.5 L716.9,713.8 L722.5,725.6 L728.2,720.6 L733.9,733.6 L739.6,741.8 L745.3,734.7 L751.0,732.0 L756.7,732.5 L762.4,741.6 L768.1,721.5 L773.8,744.5 L779.5,719.7 L785.2,714.0 L790.9,709.4 L796.5,695.3 L802.2,673.7 L807.9,689.2 L813.6,681.6 L819.3,672.8 L825.0,686.9 L830.7,690.1 L836.4,692.4 L842.1,676.4 L847.8,604.2 L853.5,611.0 L859.2,600.1 L864.9,630.4 L870.6,607.1 L876.2,586.4 L881.9,587.5 L887.6,587.1 L893.3,585.5 L899.0,592.3 L904.7,619.0 L910.4,668.4 L916.1,679.8 L921.8,683.9 L927.5,683.5 L933.2,671.4 L938.9,664.6 L944.6,672.8 L950.2,671.8 L955.9,669.6 L961.6,664.6 L967.3,662.3 L973.0,660.0 L978.7,650.9 L984.4,617.4 L990.1,629.9 L995.8,628.3 L1001.5,640.6 L1007.2,644.7 L1012.9,679.4 L1018.6,650.2 L1024.3,677.1 L1029.9,680.4 L1035.6,675.7 L1041.3,677.4 L1047.0,651.2 L1052.7,643.7 L1058.4,637.6 L1064.1,633.7 L1069.8,643.7 L1075.5,641.8 L1081.2,624.2 L1086.9,642.3 L1092.6,639.5 L1098.3,643.7 L1103.9,643.2 L1109.6,638.2 L1115.3,630.6 L1121.0,639.5 L1126.7,652.9 L1132.4,641.8 L1138.1,625.4 L1143.8,628.4 L1149.5,639.0 L1155.2,634.5 L1160.9,618.7 L1166.6,589.5 L1172.3,598.7 L1177.9,595.0 L1183.6,590.0 L1189.3,593.1 L1195.0,591.4 L1200.7,615.9 L1206.4,674.9 L1212.1,672.1 L1217.8,675.4 L1223.5,674.3 L1229.2,663.2 L1234.9,698.5 L1240.6,706.0 L1246.3,705.5 L1252.0,710.8 L1257.6,710.5 L1263.3,723.8 L1269.0,734.7 L1274.7,769.7 L1280.4,784.7 L1286.1,780.3 L1291.8,783.1 L1297.5,752.8 L1303.2,753.0 L1308.9,777.8 L1314.6,785.0 L1320.3,766.7 L1326.0,755.5 L1331.6,755.0 L1337.3,740.2 L1343.0,726.3 L1348.7,716.0 L1354.4,723.5 L1360.1,724.7 L1365.8,731.9 L1371.5,738.8" fill="none" stroke="#7e57c2" stroke-width="1.1" stroke-linejoin="round"/>
</g>
<text x="1485.6" y="36.6" font-size="12.8" fill="#131722" textLength="39.2" lengthAdjust="spacingAndGlyphs">1.11500</text>
<text x="1485.6" y="79.1" font-size="12.8" fill="#131722" textLength="39.2" lengthAdjust="spacingAndGlyphs">1.11000</text>
<text x="1485.6" y="121.7" font-size="12.8" fill="#131722" textLength="39.2" lengthAdjust="spacingAndGlyphs">1.10500</text>
<text x="1485.6" y="164.2" font-size="12.8" fill="#131722" textLength="39.2" lengthAdjust="spacingAndGlyphs">1.10000</text>
<text x="1485.6" y="249.4" font-size="12.8" fill="#131722" textLength="39.2" lengthAdjust="spacingAndGlyphs">1.09000</text>
<text x="1485.6" y="291.9" font-size="12.8" fill="#131722" textLength="39.2" lengthAdjust="spacingAndGlyphs">1.08500</text>
<text x="1485.6" y="334.4" font-size="12.8" fill="#131722" textLength="39.2" lengthAdjust="spacingAndGlyphs">1.08000</text>
<text x="1485.6" y="377.0" font-size="12.8" fill="#131722" textLength="39.2" lengthAdjust="spacingAndGlyphs">1.07500</text>
<text x="1485.6" y="419.6" font-size="12.8" fill="#131722" textLength="39.2" lengthAdjust="spacingAndGlyphs">1.07000</text>
<text x="1485.6" y="462.1" font-size="12.8" fill="#131722" textLength="39.2" lengthAdjust="spacingAndGlyphs">1.06500</text>
<text x="1485.6" y="504.6" font-size="12.8" fill="#131722" textLength="39.2" lengthAdjust="spacingAndGlyphs">1.06000</text>
<text x="1485.3" y="550.2" font-size="12.6" fill="#131722" textLength="27.8" lengthAdjust="spacingAndGlyphs">90.00</text>
<text x="1485.3" y="586.5" font-size="12.6" fill="#131722" textLength="27.8" lengthAdjust="spacingAndGlyphs">80.00</text>
<text x="1485.3" y="622.9" font-size="12.6" fill="#131722" textLength="27.8" lengthAdjust="spacingAndGlyphs">70.00</text>
<text x="1485.3" y="659.2" font-size="12.6" fill="#131722" textLength="27.8" lengthAdjust="spacingAndGlyphs">60.00</text>
<text x="1485.3" y="695.6" font-size="12.6" fill="#131722" textLength="27.8" lengthAdjust="spacingAndGlyphs">50.00</text>
<text x="1485.3" y="731.9" font-size="12.6" fill="#131722" textLength="27.8" lengthAdjust="spacingAndGlyphs">40.00</text>
<text x="1485.3" y="768.3" font-size="12.6" fill="#131722" textLength="27.8" lengthAdjust="spacingAndGlyphs">30.00</text>
<rect x="1477.4" y="140.4" width="53.1" height="16.3" rx="2" fill="#f57c00"/>
<text x="1486.2" y="152.9" font-size="12.6" font-weight="bold" fill="#fff" textLength="38.6" lengthAdjust="spacingAndGlyphs">1.10131</text>
<rect x="1477.4" y="176.3" width="53.1" height="16.0" rx="2" fill="#43a047"/>
<text x="1486.2" y="188.6" font-size="12.6" font-weight="bold" fill="#fff" textLength="38.6" lengthAdjust="spacingAndGlyphs">1.09709</text>
<rect x="1477.4" y="194.4" width="53.1" height="16.8" rx="2" fill="#f23645"/>
<text x="1486.2" y="207.1" font-size="12.6" font-weight="bold" fill="#fff" textLength="38.6" lengthAdjust="spacingAndGlyphs">1.09481</text>
<rect x="1477.4" y="210.2" width="53.1" height="16.6" rx="2" fill="#f23645"/>
<text x="1486.2" y="222.8" font-size="12.6" font-weight="bold" fill="#fff" textLength="38.6" lengthAdjust="spacingAndGlyphs">1.09317</text>
<rect x="1477.4" y="226.3" width="53.1" height="16.2" rx="2" fill="#2962ff"/>
<text x="1486.2" y="238.7" font-size="12.6" font-weight="bold" fill="#fff" textLength="38.6" lengthAdjust="spacingAndGlyphs">1.09226</text>
<rect x="1477.4" y="732.0" width="40.5" height="15.4" rx="2" fill="#7e57c2"/>
<text x="1485.1" y="744.0" font-size="12.6" font-weight="bold" fill="#fff" textLength="27.6" lengthAdjust="spacingAndGlyphs">36.73</text>
<text x="9.7" y="23.2" font-size="13.6" fill="#131722" textLength="134.3" lengthAdjust="spacingAndGlyphs">EUR/USD · 4h · forex</text>
<circle cx="167" cy="17.9" r="8.3" fill="#089981" fill-opacity="0.2"/><circle cx="167" cy="17.9" r="3.9" fill="#089981"/>
<text x="191.1" y="23.2" font-size="11.8" fill="#131722" textLength="8.4" lengthAdjust="spacingAndGlyphs">O</text>
<text x="201.3" y="23.2" font-size="11.8" fill="#f23645" textLength="42.4" lengthAdjust="spacingAndGlyphs">1.09393</text>
<text x="248.4" y="23.2" font-size="11.8" fill="#131722" textLength="7.8" lengthAdjust="spacingAndGlyphs">H</text>
<text x="258.3" y="23.2" font-size="11.8" fill="#f23645" textLength="42.8" lengthAdjust="spacingAndGlyphs">1.09340</text>
<text x="306.7" y="23.2" font-size="11.8" fill="#131722" textLength="5.6" lengthAdjust="spacingAndGlyphs">L</text>
<text x="314.0" y="23.2" font-size="11.8" fill="#f23645" textLength="42.6" lengthAdjust="spacingAndGlyphs">1.09270</text>
<text x="363.1" y="23.2" font-size="11.8" fill="#131722" textLength="7.8" lengthAdjust="spacingAndGlyphs">C</text>
<text x="371.4" y="23.2" font-size="11.8" fill="#f23645" textLength="42.7" lengthAdjust="spacingAndGlyphs">1.09317</text>
<text x="420.0" y="23.2" font-size="11.8" fill="#f23645" textLength="100.3" lengthAdjust="spacingAndGlyphs">−0.00076 (−0.07%)</text>
<text x="9.7" y="45.3" font-size="12.2" fill="#131722" textLength="108.4" lengthAdjust="spacingAndGlyphs">MA 20 close 0 SMA 9</text>
<text x="127.4" y="45.3" font-size="12.2" fill="#f23645" textLength="41.6" lengthAdjust="spacingAndGlyphs">1.09481</text>
<text x="9.7" y="67.7" font-size="12.2" fill="#131722" textLength="108.4" lengthAdjust="spacingAndGlyphs">MA 50 close 0 SMA 9</text>
<text x="127.4" y="67.7" font-size="12.2" fill="#f57c00" textLength="41.6" lengthAdjust="spacingAndGlyphs">1.10131</text>
<text x="9.7" y="90.2" font-size="12.2" fill="#131722" textLength="115.1" lengthAdjust="spacingAndGlyphs">MA 100 close 0 SMA 9</text>
<text x="133.9" y="90.2" font-size="12.2" fill="#43a047" textLength="41.6" lengthAdjust="spacingAndGlyphs">1.09709</text>
<text x="9.7" y="112.5" font-size="12.2" fill="#131722" textLength="115.1" lengthAdjust="spacingAndGlyphs">MA 200 close 0 SMA 9</text>
<text x="133.9" y="112.5" font-size="12.2" fill="#2962ff" textLength="41.6" lengthAdjust="spacingAndGlyphs">1.09226</text>
<rect x="10.1" y="122.6" width="26.2" height="18.8" rx="3" fill="#fff" stroke="#d1d4dc" stroke-width="1"/>
<path d="M19.6,133.6 L23.1,130.1 L26.6,133.6" fill="none" stroke="#131722" stroke-width="1.3"/>
<text x="9.8" y="559.7" font-size="12.2" fill="#131722" textLength="73.9" lengthAdjust="spacingAndGlyphs">RSI 14 SMA 14</text>
<text x="91.8" y="559.7" font-size="12.2" fill="#7e57c2" textLength="29.6" lengthAdjust="spacingAndGlyphs">36.73</text>
<g clip-path="url(#p2)"><circle cx="27.7" cy="781.4" r="16" fill="#fff" stroke="#dcdfe8" stroke-width="1.3"/>
<path d="M18.1,775.9 H26.4 V786 H22.5 V779.8 H18.1Z M33.9,775.9 H38.1 L34.5,786 H29.9Z" fill="#131722"/><circle cx="29.3" cy="777.9" r="1.9" fill="#131722"/></g>
<rect x="0" y="0" width="1533.8" height="2.6" fill="#e0e3eb"/>
<rect x="0" y="0" width="1" height="791" fill="#e0e3eb"/>
<rect x="1534" y="562.8" width="2" height="791" fill="#e9ebf4"/>
<rect x="0" y="785.3" width="1536" height="5.7" fill="#f0f2f8"/>
</svg>
</body></html>
